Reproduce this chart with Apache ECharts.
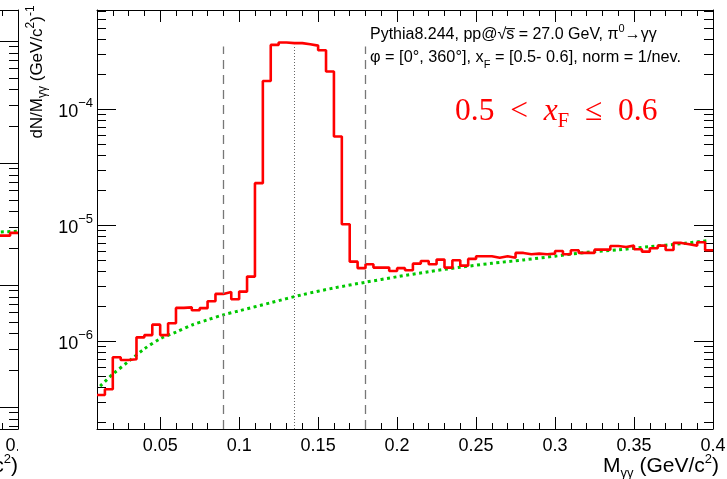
<!DOCTYPE html>
<html><head><meta charset="utf-8">
<script src="https://cdn.jsdelivr.net/npm/echarts@6/dist/echarts.min.js"></script>
<style>html,body{margin:0;padding:0;background:#fff}#c{width:727px;height:479px}</style>
</head><body><div id="c"></div>
<script>
// ---- data ----
const binStart = 0.01;
const binWidth = 0.005;
const signal = [
 3.44e-7, 3.85e-7, 7.28e-7, 6.90e-7, 7.00e-7, 1.08e-6, 1.13e-6, 1.39e-6, 1.13e-6, 1.43e-6,
 1.94e-6, 1.96e-6, 1.85e-6, 1.93e-6, 2.21e-6, 2.56e-6, 2.66e-6, 2.30e-6, 2.68e-6, 3.61e-6,
 2.31e-5, 1.76e-4, 3.60e-4, 3.77e-4, 3.73e-4, 3.73e-4, 3.65e-4, 3.55e-4, 3.24e-4, 2.12e-4,
 5.83e-5, 1.02e-5, 4.86e-6, 4.27e-6, 4.62e-6, 4.32e-6, 4.32e-6, 4.04e-6, 4.27e-6, 4.10e-6,
 4.67e-6, 4.93e-6, 4.62e-6, 5.06e-6, 4.32e-6, 5.00e-6, 4.49e-6, 5.13e-6, 5.41e-6, 5.41e-6,
 5.26e-6, 5.41e-6, 5.26e-6, 5.78e-6, 5.63e-6, 5.70e-6, 5.63e-6, 5.70e-6, 6.01e-6, 5.63e-6,
 6.10e-6, 5.78e-6, 5.78e-6, 6.17e-6, 6.17e-6, 6.64e-6, 6.51e-6, 6.68e-6, 6.22e-6, 5.93e-6,
 6.34e-6, 6.68e-6, 6.13e-6, 7.05e-6, 6.87e-6, 6.68e-6, 7.15e-6, 6.10e-6
];
const bgX = [0.012, 0.02, 0.03, 0.04, 0.05, 0.06, 0.07, 0.08, 0.09, 0.10, 0.12, 0.14, 0.16, 0.18,
             0.20, 0.22, 0.24, 0.26, 0.28, 0.30, 0.32, 0.34, 0.36, 0.38, 0.397];
const bgY = [4.1e-7, 5.2e-7, 6.7e-7, 8.6e-7, 1.05e-6, 1.2e-6, 1.38e-6, 1.53e-6, 1.69e-6, 1.83e-6,
             2.15e-6, 2.52e-6, 2.88e-6, 3.23e-6, 3.6e-6, 3.98e-6, 4.35e-6, 4.7e-6, 5.03e-6, 5.42e-6,
             5.85e-6, 6.14e-6, 6.55e-6, 6.95e-6, 7.38e-6];
const cutLines = [0.09, 0.18];
const cutTop = 3.48e-4;
const massLine = 0.135;
const massTop = 3.6e-4;
const xRange = [0.01, 0.4];
const yRange = [1.75e-7, 7.2e-4];
// neighbouring (cut-off) panel on the left
const nbStart = 0.385;
const nbSignal = [2.54e-6, 2.54e-6, 2.68e-6];
const nbBgX = [0.385, 0.4];
const nbBgY = [2.71e-6, 2.76e-6];
const nbYRange = [6.6e-8, 1.8e-4];

// ---- build ----
const FONT = '"Liberation Sans", Arial, Helvetica, sans-serif';
const SERIF = '"Liberation Serif", "DejaVu Serif", serif';
function steps(start, w, vals) {
  const d = vals.map((v, i) => [+(start + i * w).toFixed(4), v]);
  d.push([+(start + vals.length * w).toFixed(4), vals[vals.length - 1]]);
  return d;
}
const histData = steps(binStart, binWidth, signal);
const bgData = bgX.map((x, i) => [x, bgY[i]]);
const nbHist = steps(nbStart, binWidth, nbSignal);
const nbBg = nbBgX.map((x, i) => [x, nbBgY[i]]);

function logLabel(v) {
  const e = Math.log10(v), r = Math.round(e);
  if (Math.abs(e - r) > 1e-6) return '';
  return '{b|10}{s|' + (r < 0 ? '\u2212' : '') + Math.abs(r) + '}';
}
const axLine = {show: true, lineStyle: {color: '#000', width: 1}};
function xAx(grid, pos, labels) {
  return {
    type: 'value', gridIndex: grid, position: pos, min: xRange[0], max: xRange[1],
    splitNumber: 8, minInterval: 0.05, maxInterval: 0.05,
    axisLine: axLine,
    axisTick: {show: true, inside: true, length: 12, lineStyle: {color: '#000'}},
    minorTick: {show: true, splitNumber: 5, length: 6, lineStyle: {color: '#000'}},
    splitLine: {show: false},
    axisLabel: {show: labels, showMinLabel: false, margin: 8, color: '#000',
      fontFamily: FONT, fontSize: 18},
  };
}
function yAx(grid, pos, labels, range) {
  return {
    type: 'log', logBase: 10, gridIndex: grid, position: pos, min: range[0], max: range[1],
    axisLine: axLine,
    axisTick: {show: true, inside: true, length: 19, lineStyle: {color: '#000'}},
    minorTick: {show: true, splitNumber: 9, length: 9, lineStyle: {color: '#000'}},
    splitLine: {show: false},
    axisLabel: {show: labels, showMinLabel: false, showMaxLabel: false, margin: 4,
      formatter: logLabel,
      rich: {
        b: {fontFamily: FONT, fontSize: 18, color: '#000', lineHeight: 24, verticalAlign: 'bottom'},
        s: {fontFamily: FONT, fontSize: 13, color: '#000', lineHeight: 13, verticalAlign: 'top'}
      }},
  };
}

const vLines = cutLines.map(x => [{coord: [x, yRange[0]], lineStyle: {type: [9, 6], color: '#777', width: 1.3}}, {coord: [x, cutTop]}]);
vLines.push([{coord: [massLine, yRange[0]], lineStyle: {type: [1, 2], color: '#666', width: 1}}, {coord: [massLine, massTop]}]);

const sub = {fontFamily: FONT, fontSize: 12, lineHeight: 12, verticalAlign: 'bottom'};
const sup = {fontFamily: FONT, fontSize: 12, lineHeight: 12, verticalAlign: 'top'};
const xTitle = '{t|M}{sub|\u03B3\u03B3}{t| (GeV/c}{sup|2}{t|)}';
const xTitleRich = {t: {fontFamily: FONT, fontSize: 21, lineHeight: 27, verticalAlign: 'middle'},
  sup: {fontFamily: FONT, fontSize: 13, lineHeight: 13, verticalAlign: 'top'},
  sub: {fontFamily: FONT, fontSize: 13, lineHeight: 13, verticalAlign: 'bottom'}};
const option = {
  animation: false,
  textStyle: {fontFamily: FONT},
  grid: [
    {left: 97, width: 616, top: 10, height: 419, containLabel: false, outerBoundsMode: 'none'},
    {left: -598, width: 616, top: 10, height: 419, containLabel: false, outerBoundsMode: 'none'}
  ],
  xAxis: [xAx(0, 'bottom', true), xAx(0, 'top', false), xAx(1, 'bottom', true), xAx(1, 'top', false)],
  yAxis: [yAx(0, 'left', true, yRange), yAx(0, 'right', false, yRange),
          yAx(1, 'left', false, nbYRange), yAx(1, 'right', false, nbYRange)],
  series: [
    {type: 'line', xAxisIndex: 0, yAxisIndex: 0, data: bgData, smooth: 0.3, symbol: 'none',
     lineStyle: {color: '#00c800', width: 3, type: [3, 3.5]}, z: 3},
    {type: 'line', xAxisIndex: 0, yAxisIndex: 0, data: histData, step: 'end', symbol: 'none',
     lineStyle: {color: '#ff0000', width: 2.6}, z: 4,
     markLine: {silent: true, symbol: 'none', label: {show: false}, data: vLines}},
    {type: 'line', xAxisIndex: 2, yAxisIndex: 2, data: nbBg, symbol: 'none',
     lineStyle: {color: '#00c800', width: 3, type: [3, 3.5]}, z: 3},
    {type: 'line', xAxisIndex: 2, yAxisIndex: 2, data: nbHist, step: 'end', symbol: 'none',
     lineStyle: {color: '#ff0000', width: 2.6}, z: 4}
  ],
  graphic: [
    {type: 'text', x: 370, y: 33, z: 10, style: {
      text: '{t|Pythia8.244, pp@\u221As\u0305 = 27.0 GeV, \u03C0}{sup|0}{t|\u2192\u03B3\u03B3}',
      verticalAlign: 'middle', fill: '#000',
      rich: {t: {fontFamily: FONT, fontSize: 16, lineHeight: 20, verticalAlign: 'bottom'},
             sup: {fontFamily: FONT, fontSize: 11, lineHeight: 11, verticalAlign: 'top'}}}},
    {type: 'text', x: 370, y: 60, z: 10, style: {
      text: '{t|\u03C6 = [0\u00B0, 360\u00B0], x}{sub|F}{t| = [0.5- 0.6], norm = 1/nev.}',
      verticalAlign: 'middle', fill: '#000',
      rich: {t: {fontFamily: FONT, fontSize: 16.3, lineHeight: 20, verticalAlign: 'top'},
             sub: {fontFamily: FONT, fontSize: 11, lineHeight: 11, verticalAlign: 'bottom'}}}},
    {type: 'text', x: 455, y: 114, z: 10, style: {
      text: '{n|0.5  <  }{i|x}{sub|F}{n|  \u2264  0.6}',
      verticalAlign: 'middle', fill: '#ff0000',
      rich: {n: {fontFamily: SERIF, fontSize: 31.5, lineHeight: 36, color: '#ff0000', verticalAlign: 'top'},
             i: {fontFamily: SERIF, fontSize: 31.5, fontStyle: 'italic', lineHeight: 36, color: '#ff0000', verticalAlign: 'top'},
             sub: {fontFamily: SERIF, fontSize: 21, lineHeight: 23, color: '#ff0000', verticalAlign: 'bottom'}}}},
    {type: 'text', x: 37, y: 72, rotation: Math.PI / 2, z: 10, style: {
      text: '{t|dN/M}{sub|\u03B3\u03B3}{t| (GeV/c}{sup|2}{t|)}{sup|-1}',
      align: 'center', verticalAlign: 'middle', fill: '#000',
      rich: {t: {fontFamily: FONT, fontSize: 17, lineHeight: 24, verticalAlign: 'middle'}, sup: sup, sub: sub}}},
    {type: 'text', x: 719, y: 466, z: 10, style: {
      text: xTitle, align: 'right', verticalAlign: 'middle', fill: '#000', rich: xTitleRich}},
    {type: 'text', x: 18, y: 466, z: 10, style: {
      text: xTitle, align: 'right', verticalAlign: 'middle', fill: '#000', rich: xTitleRich}},
    {type: 'rect', z: 50, shape: {x: 18, y: 433, width: 70, height: 46}, style: {fill: '#fff'}}
  ]
};
const chart = echarts.init(document.getElementById('c'));
chart.setOption(option);
</script></body></html>
